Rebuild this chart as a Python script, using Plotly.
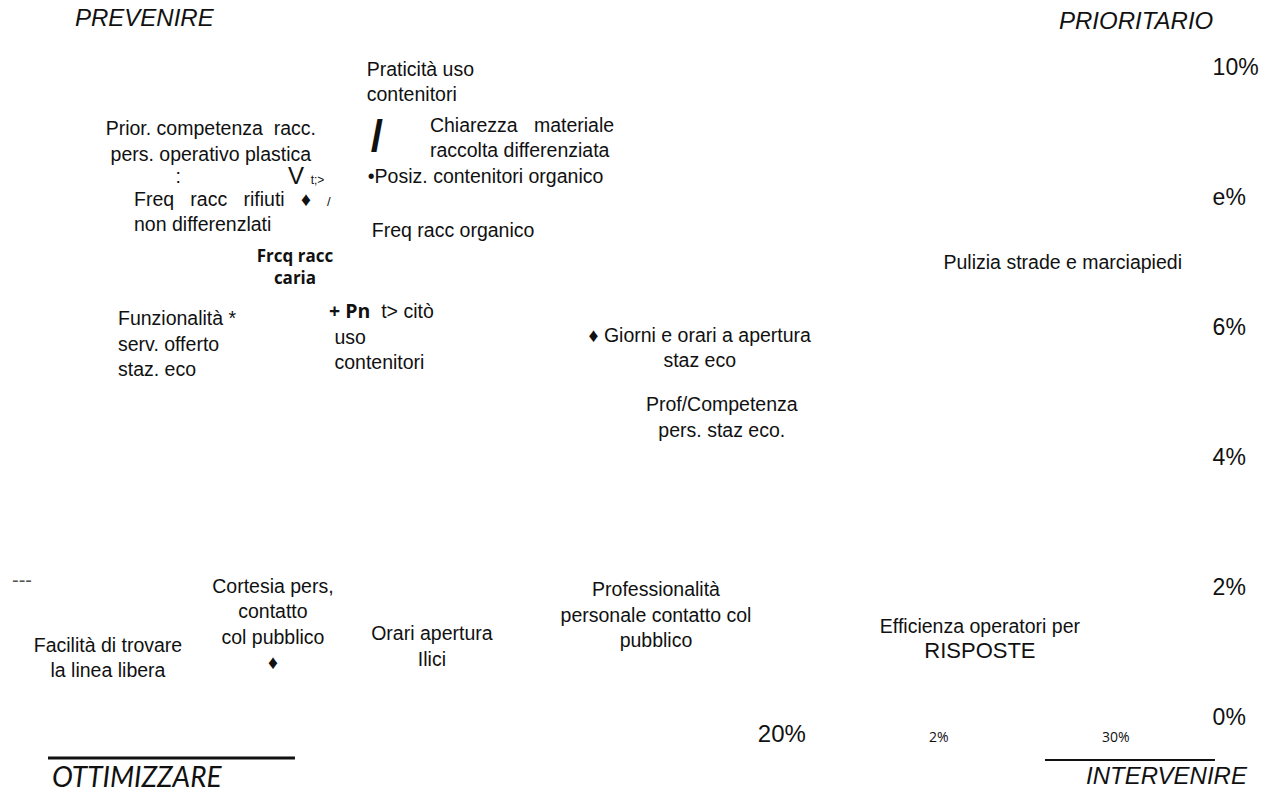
import plotly.graph_objects as go

# ---- data (x: % scale on horizontal axis, y: % scale on vertical axis) ----
labels = [
    "Praticità uso<br>contenitori",
    "<b>/</b>",
    "Chiarezza\u00a0\u00a0 materiale<br>raccolta differenziata",
    "•Posiz. contenitori organico",
    "Prior. competenza\u00a0 racc.<br>pers. operativo plastica",
    ":",
    "V <span style='font-size:12px'>t;&gt;</span>",
    "Freq\u00a0\u00a0 racc\u00a0\u00a0 rifiuti\u00a0\u00a0 ♦\u00a0\u00a0 <span style='font-size:13px'>/</span><br>non differenzlati",
    "Freq racc organico",
    "<b>Frcq racc<br>caria</b>",
    "Funzionalità *<br>serv. offerto<br>staz. eco",
    "<b><span style='font-family:Open Sans'>+ Pn</span></b>\u00a0\u00a0t&gt; citò<br>\u00a0uso<br>\u00a0contenitori",
    "♦ Giorni e orari a apertura<br>staz eco",
    "Prof/Competenza<br>pers. staz eco.",
    "Pulizia strade e marciapiedi",
    "Cortesia pers,<br>contatto<br>col pubblico<br>♦",
    "Facilità di trovare<br>la linea libera",
    "Orari apertura<br>Ilici",
    "Professionalità<br>personale contatto col<br>pubblico",
    "Efficienza operatori per<br><span style='font-size:22px'>RISPOSTE</span>",
]
x_vals = [7.57, 7.87, 9.46, 7.60, 2.90, 1.92, 5.21, 0.60, 7.72, 5.42,
          0.12, 6.44, 17.54, 18.20, 28.41, 4.76, -0.18, 9.52, 16.23, 25.93]
y_vals = [9.74, 8.88, 8.88, 8.29, 8.83, 8.29, 8.29, 7.74, 7.46, 6.89,
          5.71, 5.82, 5.65, 4.58, 6.97, 1.40, 0.88, 1.06, 1.54, 1.17]

y_tick_vals = [0, 2, 4, 6, 8, 10]
y_tick_text = ["0%", "2%", "4%", "6%", "e%", "10%"]
x_tick_vals = [20, 24.7, 30]
x_tick_text = ["20%",
               "<span style='font-size:14px;font-family:Open Sans'>2%</span>",
               "<span style='font-size:14px;font-family:Open Sans'>30%</span>"]

quadrants = ["PREVENIRE", "PRIORITARIO", "OTTIMIZZARE", "INTERVENIRE"]

# ---- styles ----
positions = ["middle right", "middle center", "middle right", "middle right",
             "middle center", "middle center", "middle right", "middle right",
             "middle right", "middle center", "middle right", "middle right",
             "middle center", "middle center", "middle center", "middle center",
             "middle center", "middle center", "middle center", "middle center"]
sizes = [19.5, 44, 19.5, 19.5, 19.5, 19.5, 24, 19.5, 19.5, 17, 19.5, 19.5,
         19.5, 19.5, 19.5, 19.5, 19.5, 19.5, 19.5, 19.5]
families = ["Liberation Sans"] * len(labels)
families[9] = "Open Sans"

fig = go.Figure()
fig.add_trace(go.Scatter(
    x=x_vals, y=y_vals, mode="text", text=labels,
    textposition=positions,
    textfont=dict(size=sizes, family=families, color="#111111"),
    cliponaxis=False, hoverinfo="skip", showlegend=False,
))

sans = "Liberation Sans"
ann = [
    dict(text=quadrants[0], x=0.1211, y=0.9749, font=dict(family=sans, size=24, style="italic")),
    dict(text=quadrants[1], x=0.9490, y=0.9721, font=dict(family=sans, size=24, style="italic")),
    dict(text=quadrants[2], x=0.1145, y=-0.0823, font=dict(family="Lato", size=28, style="italic")),
    dict(text=quadrants[3], x=0.9749, y=-0.0809, font=dict(family=sans, size=24, style="italic")),
    dict(text="---", x=0.0184, y=0.1911, font=dict(family=sans, size=20, color="#555555")),
]
for a in ann:
    a.update(xref="paper", yref="paper", showarrow=False, xanchor="center", yanchor="middle")
    a["font"].setdefault("color", "#111111")
    fig.add_annotation(**a)

fig.add_shape(type="line", xref="paper", yref="paper", x0=0.0401, x1=0.2464, y0=-0.0572, y1=-0.0572,
              line=dict(color="#111111", width=3))
fig.add_shape(type="line", xref="paper", yref="paper", x0=0.8730, x1=1.0150, y0=-0.0600, y1=-0.0600,
              line=dict(color="#111111", width=2))

fig.update_layout(
    width=1284, height=792,
    margin=dict(l=0, r=87, t=0, b=75),
    paper_bgcolor="white", plot_bgcolor="white",
    xaxis=dict(range=[-3.413, 32.43], tickvals=x_tick_vals, ticktext=x_tick_text,
               showgrid=False, zeroline=False, showline=False, ticks="", automargin=False,
               tickfont=dict(family=sans, size=24, color="#111111")),
    yaxis=dict(range=[0, 11.031], side="right", tickvals=y_tick_vals, ticktext=y_tick_text,
               showgrid=False, zeroline=False, showline=False, automargin=False,
               ticks="outside", ticklen=10, tickcolor="rgba(0,0,0,0)",
               tickfont=dict(family=sans, size=23, color="#111111")),
)

fig.write_html("out.html", config={"displayModeBar": False},
               post_script="document.body.style.margin='0';document.body.style.overflow='hidden';")
